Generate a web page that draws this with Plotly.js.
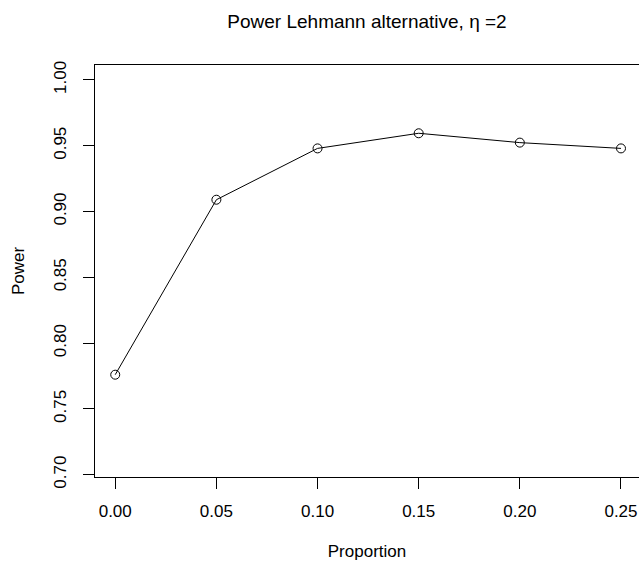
<!DOCTYPE html>
<html>
<head>
<meta charset="utf-8">
<script src="https://cdn.plot.ly/plotly-3.0.1.min.js"></script>
<style>
  html, body { margin: 0; padding: 0; background: #ffffff; }
  #chart { width: 639px; height: 565px; }
</style>
</head>
<body>
<div id="chart"></div>
<script>
// Data
const proportion = [0.00, 0.05, 0.10, 0.15, 0.20, 0.25];
const power = [0.776, 0.909, 0.948, 0.9595, 0.9524, 0.948];

// Axis ticks
const xTickVals = [0.00, 0.05, 0.10, 0.15, 0.20, 0.25];
const xTickText = ['0.00', '0.05', '0.10', '0.15', '0.20', '0.25'];
const yTickVals = [0.70, 0.75, 0.80, 0.85, 0.90, 0.95, 1.00];
const yTickText = ['0.70', '0.75', '0.80', '0.85', '0.90', '0.95', '1.00'];

const FONT = '"Liberation Sans", Arial, Helvetica, sans-serif';

const trace = {
  x: proportion,
  y: power,
  type: 'scatter',
  mode: 'lines+markers',
  line: { color: '#000000', width: 1 },
  marker: { symbol: 'circle-open', size: 9, color: '#000000', line: { width: 1, color: '#000000' } },
  showlegend: false,
  hoverinfo: 'x+y'
};

const layout = {
  width: 639,
  height: 565,
  paper_bgcolor: '#ffffff',
  plot_bgcolor: '#ffffff',
  margin: { l: 95, r: 0, t: 65, b: 88 },
  font: { family: FONT, size: 17, color: '#000000' },
  title: {
    text: 'Power Lehmann alternative, η =2',
    font: { family: FONT, size: 19, color: '#000000' },
    x: 0.5, xref: 'paper', xanchor: 'center',
    y: 1 - 21 / 565, yref: 'container', yanchor: 'middle'
  },
  xaxis: {
    range: [-0.01, 0.2589],
    tickvals: xTickVals,
    ticktext: xTickText,
    ticks: 'outside', ticklen: 11, tickwidth: 1, tickcolor: '#000000',
    showline: true, mirror: true, linecolor: '#000000', linewidth: 1,
    showgrid: false, zeroline: false,
    ticklabelstandoff: 8,
    tickfont: { family: FONT, size: 17, color: '#000000' },
    title: { text: 'Proportion', font: { family: FONT, size: 17, color: '#000000' }, standoff: 24 },
    automargin: false
  },
  yaxis: {
    range: [0.69825, 1.01139],
    tickvals: yTickVals,
    ticktext: yTickText,
    tickangle: -90,
    ticks: 'outside', ticklen: 11, tickwidth: 1, tickcolor: '#000000',
    showline: true, mirror: false, linecolor: '#000000', linewidth: 1,
    showgrid: false, zeroline: false,
    ticklabelstandoff: 10,
    tickfont: { family: FONT, size: 17, color: '#000000' },
    title: { text: 'Power', font: { family: FONT, size: 17, color: '#000000' }, standoff: 22 },
    automargin: false
  }
};

Plotly.newPlot('chart', [trace], layout, { displayModeBar: false, staticPlot: true });
</script>
</body>
</html>
